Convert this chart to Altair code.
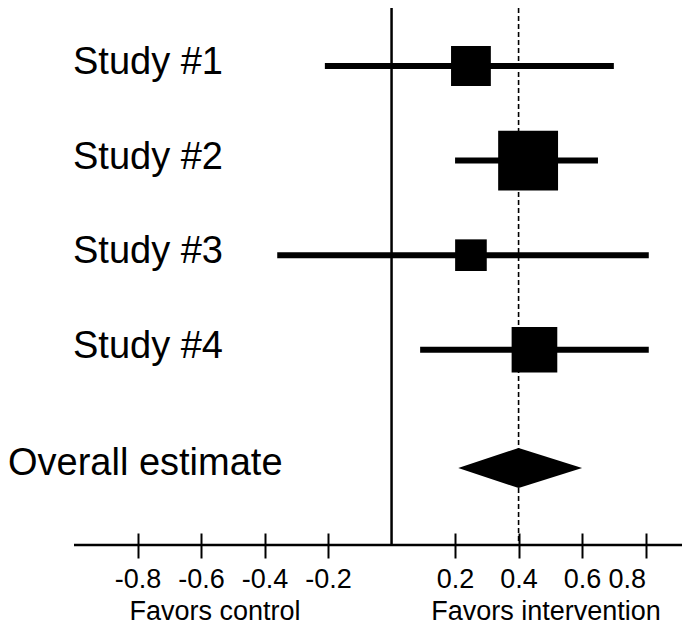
import altair as alt
import pandas as pd

# ---- data ----
studies = ["Study #1", "Study #2", "Study #3", "Study #4"]
estimates = [0.25, 0.43, 0.25, 0.45]
lower = [-0.21, 0.20, -0.36, 0.09]
upper = [0.70, 0.65, 0.81, 0.81]
weights = [19, 43, 12, 25]          # relative study weights (%)
rows = [1, 2, 3, 4]

overall_label = ["Overall estimate"]
overall_est = [0.40]
overall_lo = [0.21]
overall_hi = [0.60]
overall_row = [5.25]

tick_values = [-0.8, -0.6, -0.4, -0.2, 0.2, 0.4, 0.6, 0.8]
side_labels = ["Favors control", "Favors intervention"]

# ---- layout / style ----
W, H = 674, 537
FONT = "Liberation Sans"
BLACK = "#000000"
xscale = alt.Scale(domain=[-1, 0.8], range=[66, 637.6], nice=False, zero=False)
yscale = alt.Scale(domain=[1, 5.25], range=[58, 460], nice=False, zero=False)
px_per_row = (460 - 58) / 4.25
diamond_half = 20 / px_per_row

studies_df = pd.DataFrame({"study": studies, "est": estimates, "lo": lower,
                           "hi": upper, "weight": weights, "row": rows})
overall_df = pd.DataFrame({"label": overall_label, "est": overall_est,
                           "row": overall_row})
diamond_df = pd.DataFrame({
    "x": [overall_lo[0], overall_est[0], overall_hi[0]],
    "y": [overall_row[0], overall_row[0] - diamond_half, overall_row[0]],
    "y2": [overall_row[0], overall_row[0] + diamond_half, overall_row[0]],
})

axis = alt.Axis(values=tick_values, domain=False, grid=False, title=None,
                tickSize=25, offset=-12, tickWidth=2, tickColor=BLACK,
                labelFontSize=27, labelPadding=8, labelColor=BLACK, labelFont=FONT,
                labelExpr="(datum.value < 0 ? '-' : '') + format(abs(datum.value), '.1f')")

zero_line = alt.Chart(pd.DataFrame({"x": [0]})).mark_rule(
    color=BLACK, strokeWidth=2.5).encode(
    x=alt.X("x:Q", scale=xscale, axis=axis),
    y=alt.value(0), y2=alt.value(H))

dash_line = alt.Chart(overall_df).mark_rule(
    color=BLACK, strokeWidth=1.6, strokeDash=[5, 3]).encode(
    x=alt.X("est:Q", scale=xscale),
    y=alt.value(0), y2=alt.value(H))

axis_line = alt.Chart(pd.DataFrame({"x": [-1]})).mark_rule(
    color=BLACK, strokeWidth=2.5).encode(
    x=alt.X("x:Q", scale=xscale),
    x2=alt.value(W), y=alt.value(H))

ci = alt.Chart(studies_df).mark_rule(color=BLACK, strokeWidth=6).encode(
    x=alt.X("lo:Q", scale=xscale),
    x2="hi:Q",
    y=alt.Y("row:Q", scale=yscale, axis=None))

squares = alt.Chart(studies_df).mark_point(
    shape="square", filled=True, opacity=1, color=BLACK).encode(
    x=alt.X("est:Q", scale=xscale),
    y=alt.Y("row:Q", scale=yscale, axis=None),
    size=alt.Size("weight:Q", scale=alt.Scale(domain=[0, 100], range=[0, 8340]),
                  legend=None))

diamond = alt.Chart(diamond_df).mark_area(color=BLACK, orient="vertical").encode(
    x=alt.X("x:Q", scale=xscale),
    y=alt.Y("y:Q", scale=yscale, axis=None),
    y2="y2:Q")

study_text = alt.Chart(studies_df).mark_text(
    align="left", baseline="middle", fontSize=38, font=FONT, color=BLACK, dy=-3).encode(
    x=alt.value(65), y=alt.Y("row:Q", scale=yscale, axis=None), text="study:N")

overall_text = alt.Chart(overall_df).mark_text(
    align="left", baseline="middle", fontSize=38, font=FONT, color=BLACK, dy=-4).encode(
    x=alt.value(0), y=alt.Y("row:Q", scale=yscale, axis=None), text="label:N")

side_df_l = pd.DataFrame({"t": [side_labels[0]]})
side_df_r = pd.DataFrame({"t": [side_labels[1]]})
left_text = alt.Chart(side_df_l).mark_text(
    align="center", baseline="middle", fontSize=27, font=FONT, color=BLACK).encode(
    x=alt.value(207), y=alt.value(604), text="t:N")
right_text = alt.Chart(side_df_r).mark_text(
    align="center", baseline="middle", fontSize=27, font=FONT, color=BLACK).encode(
    x=alt.value(538), y=alt.value(604), text="t:N")

chart = alt.layer(
    zero_line, dash_line, axis_line, ci, squares, diamond,
    study_text, overall_text, left_text, right_text
).properties(
    width=W, height=H,
    padding={"left": 0, "top": 0, "right": 0, "bottom": 83},
    autosize=alt.AutoSizeParams(type="none"),
    background="white",
).configure_view(stroke=None)

chart.save("out.html", embed_options={"renderer": "svg", "actions": False})
